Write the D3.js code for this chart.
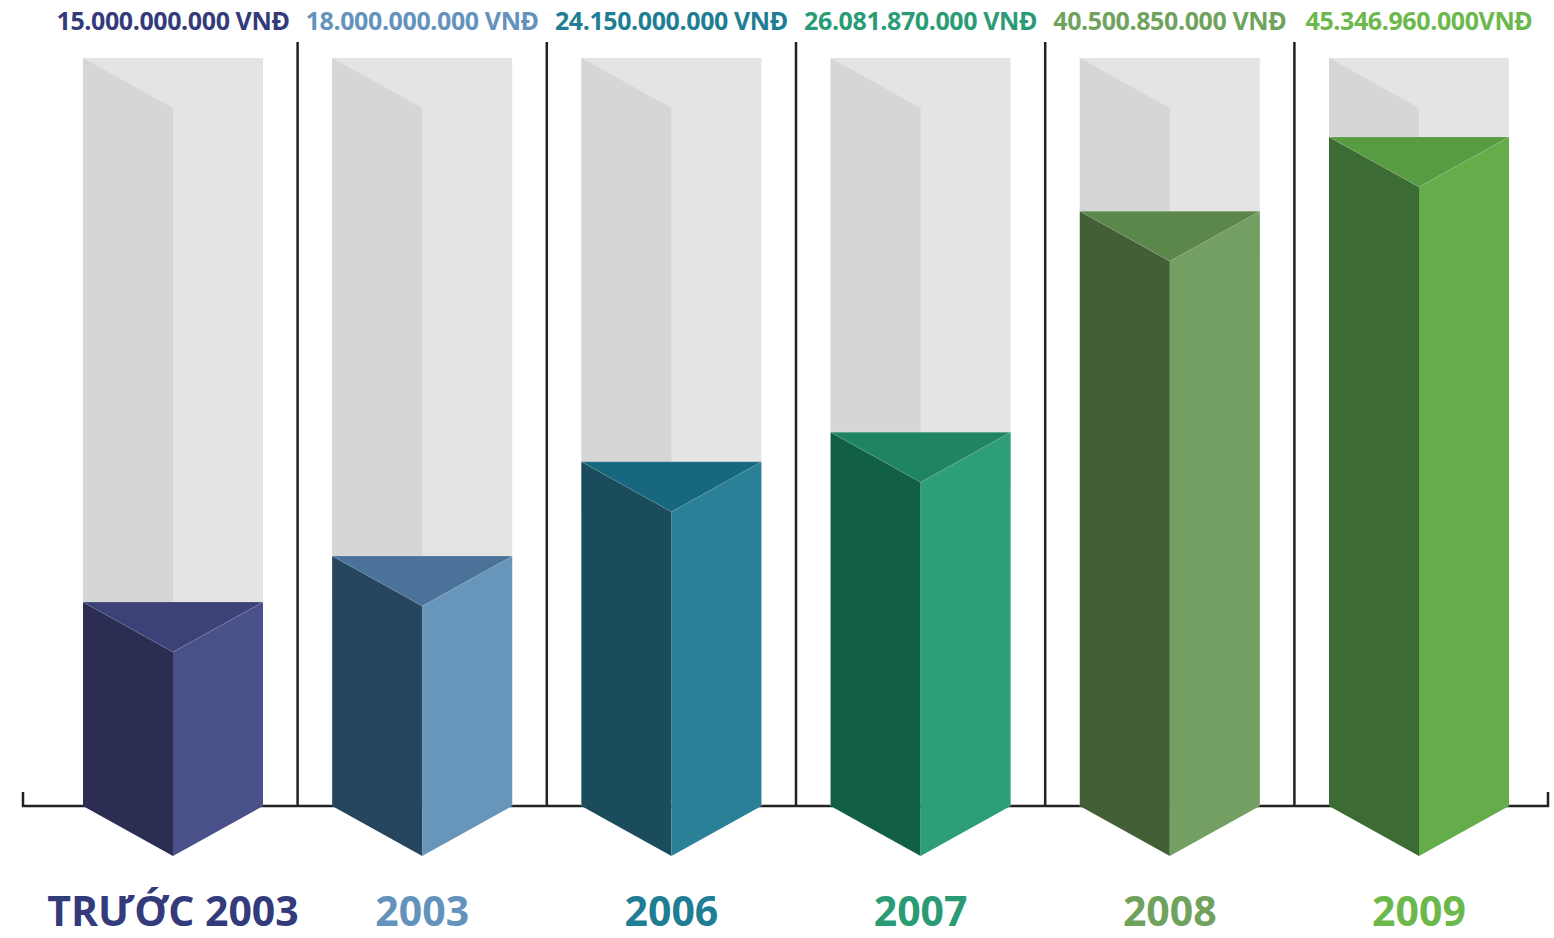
<!DOCTYPE html>
<html>
<head>
<meta charset="utf-8">
<script src="https://cdn.jsdelivr.net/npm/d3@7"></script>
<style>
  body { margin: 0; background: #ffffff; }
  #wrapper { width: 1554px; height: 938px; overflow: hidden; }
</style>
</head>
<body>
<div id="wrapper"></div>
<script>
// data
const categories = ["TRƯỚC 2003", "2003", "2006", "2007", "2008", "2009"];
const values = [15000000000, 18000000000, 24150000000, 26081870000, 40500850000, 45346960000];
const valueLabels = [
    "15.000.000.000 VNĐ",
    "18.000.000.000 VNĐ",
    "24.150.000.000 VNĐ",
    "26.081.870.000 VNĐ",
    "40.500.850.000 VNĐ",
    "45.346.960.000VNĐ"
];

// colours per year: left face, right face, top, label
const palette = [
    {left: "#2b2d52", right: "#4a5089", top: "#3c4178", label: "#333b7a"},
    {left: "#26465f", right: "#6896bb", top: "#4b7299", label: "#6393bd"},
    {left: "#1b4c5b", right: "#2a8096", top: "#17687e", label: "#1f7d94"},
    {left: "#125f48", right: "#2e9e7a", top: "#1e8464", label: "#2a9b74"},
    {left: "#425f36", right: "#73a062", top: "#5b874a", label: "#6fa35d"},
    {left: "#3c6b33", right: "#64ad4a", top: "#579c43", label: "#6cb84c"}
];

function drawChart() {
    const dimensions = {
        width: 1554,
        height: 938,
        baseline: 806,
        depth: 50,
        barWidth: 180,
    };

    const svg = d3.select("#wrapper").append("svg")
        .attr("width", dimensions.width)
        .attr("height", dimensions.height)
        .style("font-family", "'Open Sans', sans-serif");

    // scales
    const xScale = d3.scalePoint()
        .domain(categories)
        .range([173, 1419]);
    const yScale = d3.scaleLinear()
        .domain([0, 5.05e10])
        .range([832, 58]);

    const half = dimensions.barWidth / 2;
    const d = dimensions.depth;
    const base = dimensions.baseline;

    // baseline with end ticks
    svg.append("path")
        .attr("d", `M23,792 V${base} H1548 V792`)
        .attr("fill", "none")
        .attr("stroke", "#222")
        .attr("stroke-width", 2.5);

    // separators between columns
    const step = xScale.step();
    svg.append("g")
        .selectAll("line")
        .data(categories.slice(1))
        .join("line")
        .attr("x1", c => xScale(c) - step / 2)
        .attr("x2", c => xScale(c) - step / 2)
        .attr("y1", 42)
        .attr("y2", base)
        .attr("stroke", "#222")
        .attr("stroke-width", 2.5);

    const cols = svg.append("g")
        .selectAll("g")
        .data(categories)
        .join("g");

    // grey background columns
    const topMax = yScale.range()[1];
    cols.append("rect")
        .attr("x", c => xScale(c) - half)
        .attr("width", dimensions.barWidth)
        .attr("y", topMax)
        .attr("height", base - topMax)
        .attr("fill", "#e4e4e4");
    cols.append("path")
        .attr("d", c => {
            const cx = xScale(c);
            return `M${cx - half},${topMax} L${cx},${topMax + d} V${base} L${cx - half},${base} Z`;
        })
        .attr("fill", "#d5d6d6");

    // coloured prisms
    const prism = cols.append("g");
    prism.append("path")
        .attr("d", (c, i) => {
            const cx = xScale(c), t = yScale(values[i]);
            return `M${cx - half},${t} L${cx},${t + d} V${base + d} L${cx - half},${base} Z`;
        })
        .attr("fill", (c, i) => palette[i].left);
    prism.append("path")
        .attr("d", (c, i) => {
            const cx = xScale(c), t = yScale(values[i]);
            return `M${cx + half},${t} L${cx},${t + d} V${base + d} L${cx + half},${base} Z`;
        })
        .attr("fill", (c, i) => palette[i].right);
    prism.append("path")
        .attr("d", (c, i) => {
            const cx = xScale(c), t = yScale(values[i]);
            return `M${cx - half},${t} H${cx + half} L${cx},${t + d} Z`;
        })
        .attr("fill", (c, i) => palette[i].top)
        .attr("stroke", "rgba(255,255,255,0.15)")
        .attr("stroke-width", 1);

    // value labels on top
    svg.append("g")
        .selectAll("text")
        .data(categories)
        .join("text")
        .attr("x", c => xScale(c))
        .attr("y", 30)
        .attr("text-anchor", "middle")
        .attr("font-size", 25)
        .attr("font-weight", 700)
        .attr("letter-spacing", -0.4)
        .attr("fill", (c, i) => palette[i].label)
        .text((c, i) => valueLabels[i]);

    // category labels
    svg.append("g")
        .selectAll("text")
        .data(categories)
        .join("text")
        .attr("x", c => xScale(c))
        .attr("y", 926)
        .attr("text-anchor", "middle")
        .attr("font-size", 41)
        .attr("font-weight", 700)
        .attr("fill", (c, i) => palette[i].label)
        .text(c => c);
}

drawChart();
</script>
</body>
</html>
